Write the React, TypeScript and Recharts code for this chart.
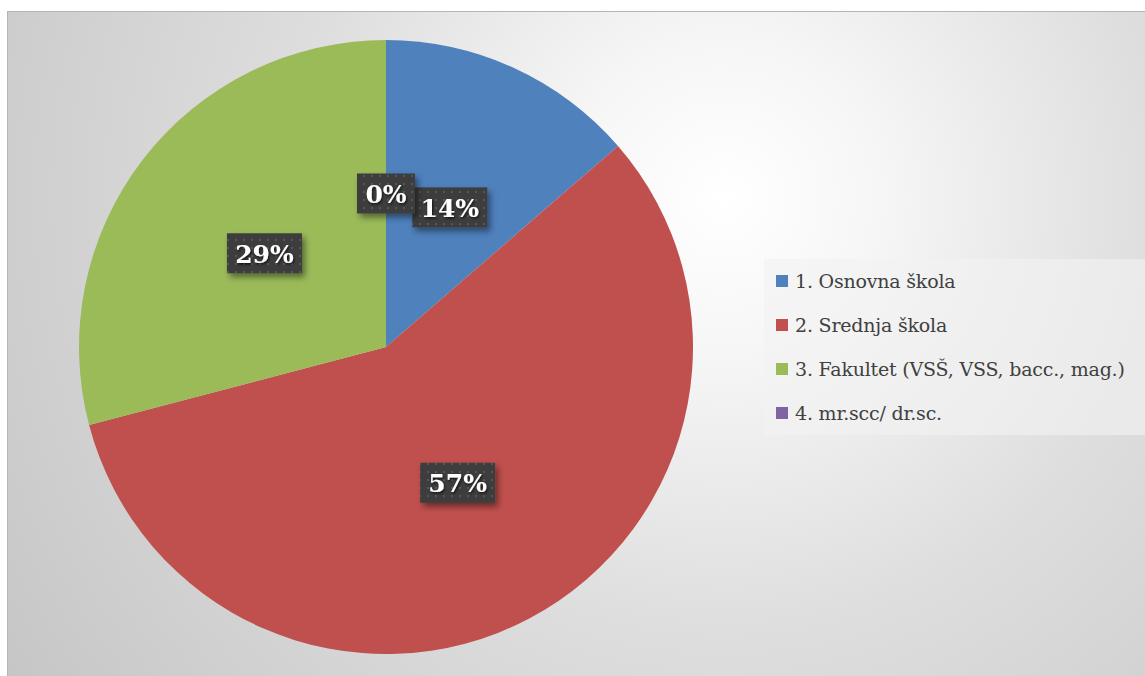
import React from 'react';
import { PieChart, Pie, Cell, Legend } from 'recharts';

const categories = [
  '1. Osnovna škola',
  '2. Srednja škola',
  '3. Fakultet (VSŠ, VSS, bacc., mag.)',
  '4. mr.scc/ dr.sc.',
];
const counts = [15, 63, 32, 0];
const colors = ['#4f81bd', '#c0504d', '#9bbb59', '#8064a2'];

const data = categories.map((name, i) => ({ name, value: counts[i] }));

const RADIAN = Math.PI / 180;
const total = counts.reduce((a, b) => a + b, 0);

// label box sits halfway along the slice's mid angle, like Excel's best fit
function renderLabel(props: any) {
  const { cx, cy, midAngle, outerRadius, value } = props;
  const r = outerRadius * 0.5;
  const x = cx + r * Math.cos(-midAngle * RADIAN);
  const y = cy + r * Math.sin(-midAngle * RADIAN);
  const text = `${Math.round((value / total) * 100)}%`;
  const w = 17 * text.length + 24;
  const h = 40;
  return (
    <g>
      <rect x={x - w / 2} y={y - h / 2} width={w} height={h} fill="url(#dots)" filter="url(#boxShadow)" />
      <text
        x={x}
        y={y + 1}
        textAnchor="middle"
        dominantBaseline="central"
        fill="#ffffff"
        fontFamily="'DejaVu Serif', serif"
        fontWeight={700}
        fontSize={25}
        filter="url(#textShadow)"
      >
        {text}
      </text>
    </g>
  );
}

function LegendBox({ payload }: any) {
  return (
    <div style={{
      width: 381,
      height: 176,
      background: 'rgba(242,242,242,0.62)',
      boxSizing: 'border-box',
    }}>
      {(payload || []).map((p: any, i: number) => (
        <div key={i} style={{ display: 'flex', alignItems: 'center', height: 44, paddingLeft: 12 }}>
          <span style={{ width: 12, height: 12, background: p.color, marginRight: 7, flexShrink: 0 }} />
          <span style={{
            fontFamily: "'DejaVu Serif', serif",
            fontSize: 19,
            letterSpacing: -0.2,
            color: '#404040',
            whiteSpace: 'nowrap',
          }}>
            {p.value}
          </span>
        </div>
      ))}
    </div>
  );
}

export default function App() {
  return (
    <div style={{
      position: 'absolute',
      left: 7,
      top: 11,
      width: 1138,
      height: 665,
      boxSizing: 'border-box',
      borderTop: '1px solid #b5b5b5',
      borderLeft: '1px solid #b5b5b5',
      background: 'radial-gradient(circle at 63% 28%, #ffffff 0%, #f6f6f6 18%, #dedede 50%, #c6c6c6 100%)',
      overflow: 'hidden',
    }}>
      <PieChart width={1137} height={664} margin={{ top: 0, right: 0, bottom: 0, left: 0 }}>
        <defs>
          <pattern id="dots" width="8" height="8" patternUnits="userSpaceOnUse">
            <rect width="8" height="8" fill="#3d3d3d" />
            <rect x="3" y="3" width="2" height="2" fill="#575757" />
          </pattern>
          <filter id="boxShadow" x="-20%" y="-20%" width="150%" height="160%">
            <feDropShadow dx="3" dy="4" stdDeviation="3" floodColor="#000" floodOpacity="0.45" />
          </filter>
          <filter id="textShadow" x="-20%" y="-20%" width="150%" height="160%">
            <feDropShadow dx="1" dy="1.5" stdDeviation="1" floodColor="#000" floodOpacity="0.7" />
          </filter>
        </defs>
        <Pie
          data={data}
          dataKey="value"
          nameKey="name"
          cx={378}
          cy={335}
          outerRadius={307}
          startAngle={90}
          endAngle={-270}
          stroke="none"
          label={renderLabel}
          labelLine={false}
          isAnimationActive={false}
        >
          {data.map((d, i) => (
            <Cell key={d.name} fill={colors[i]} />
          ))}
        </Pie>
        <Legend
          layout="vertical"
          align="right"
          verticalAlign="middle"
          content={<LegendBox />}
          wrapperStyle={{ left: 756, top: 247, width: 381, height: 176 }}
        />
      </PieChart>
    </div>
  );
}
